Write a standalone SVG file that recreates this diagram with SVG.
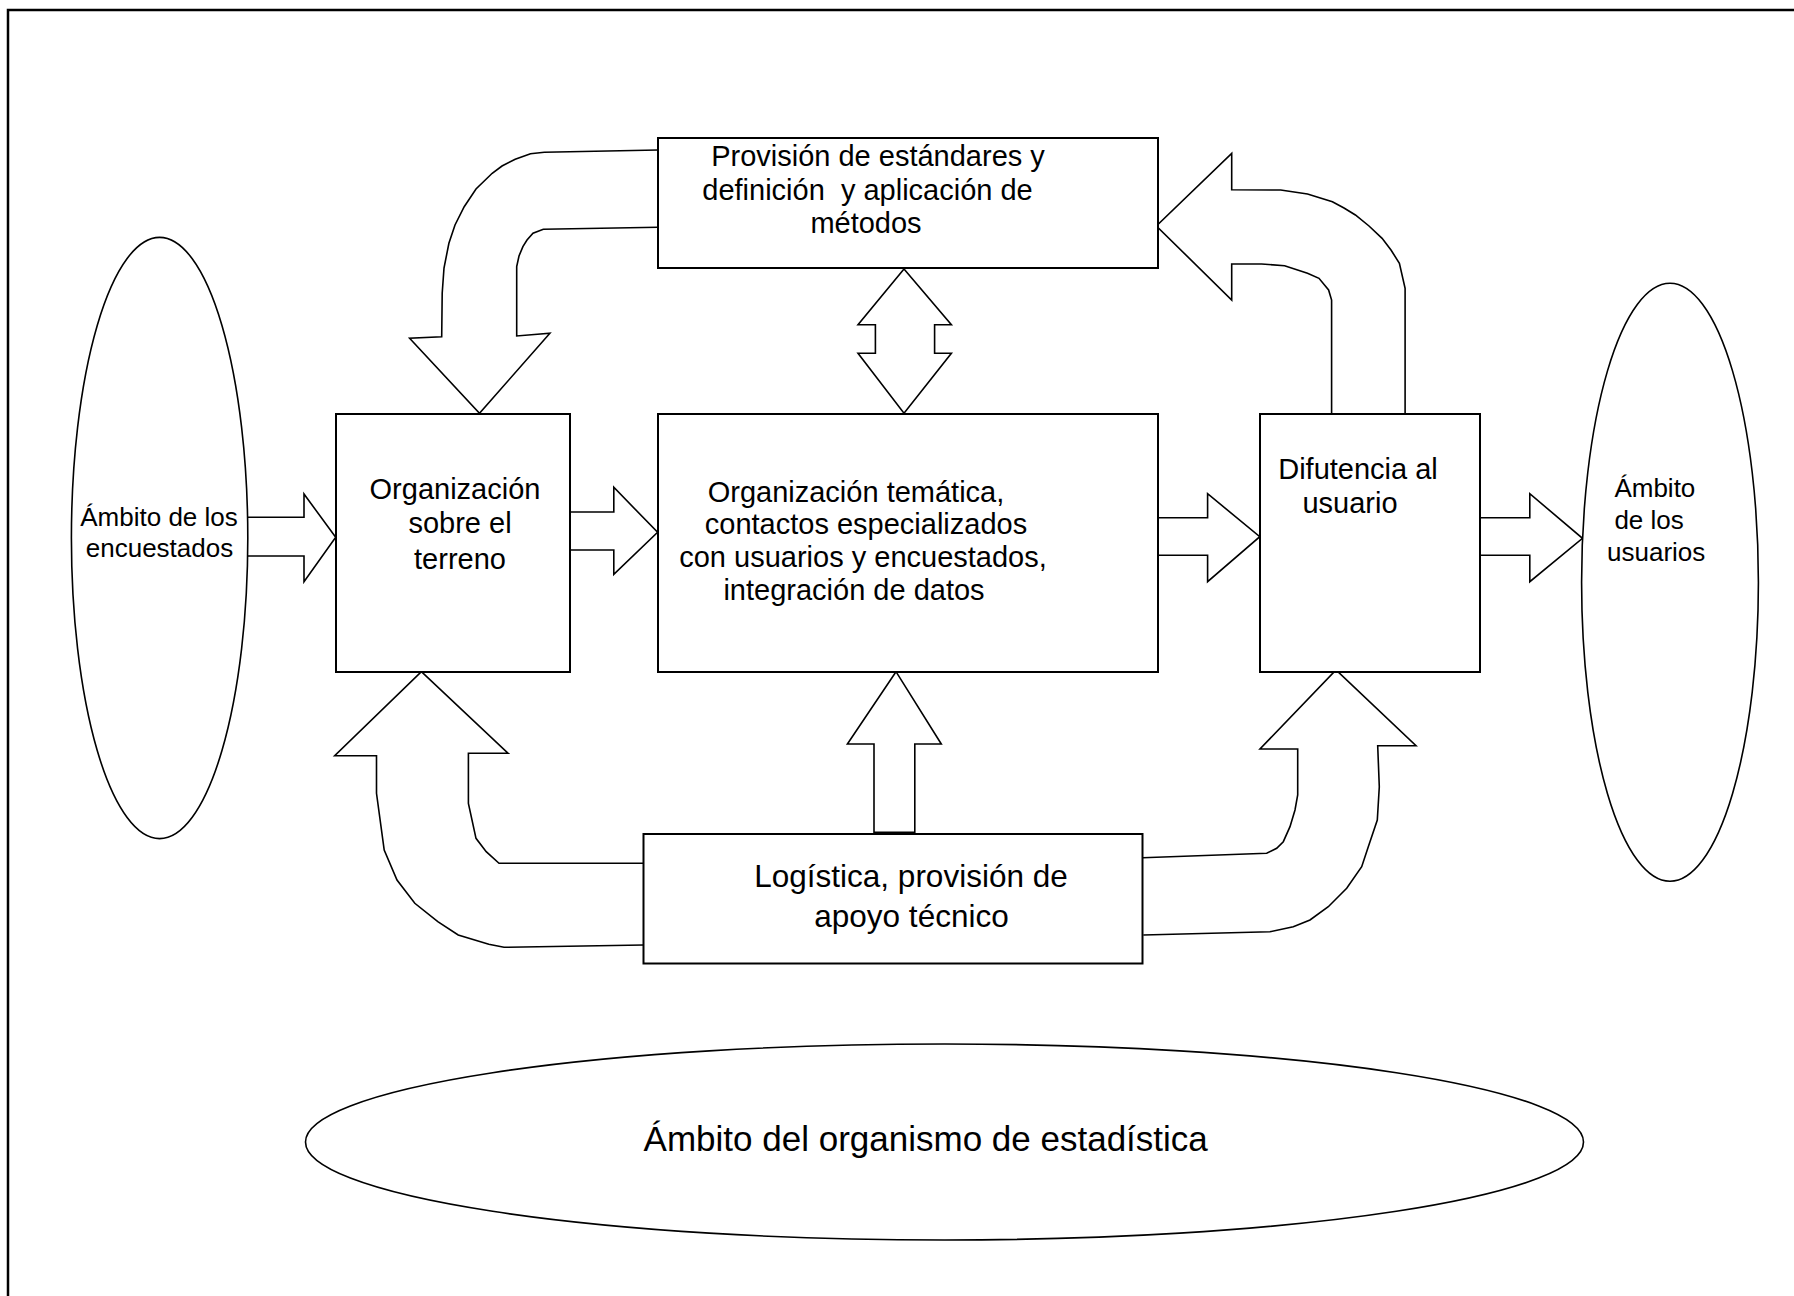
<svg xmlns="http://www.w3.org/2000/svg" width="1794" height="1296" viewBox="0 0 1794 1296">
<style>
.box{fill:#fff;stroke:#000;stroke-width:2}
.ell{fill:#fff;stroke:#000;stroke-width:1.6}
.arr{fill:#fff;stroke:#000;stroke-width:1.6;stroke-linejoin:miter}
.t{font-family:"Liberation Sans",Arial,sans-serif;fill:#000;text-anchor:middle}
.b{font-size:29px}
.l{font-size:31.5px}
.e{font-size:26px}
.big{font-size:35px}
</style>
<rect width="1794" height="1296" fill="#fff"/>
<path d="M8,1296 L8,10 L1794,10" fill="none" stroke="#000" stroke-width="2.5"/>

<g id="connectors">
  <path class="arr" d="M658,150 L544.3,152.3 L530.5,153.7 L515.2,159.3 L502,166 L492.2,173.3 L476,189 L464.2,206.7 L455,225 L448.9,243.3 L444,268 L442.2,293.3 L441.7,336.7 L409.6,338.3 L479.5,413.3 L549.9,333.3 L516.7,336 L516.7,266.7 L519,256 L522.9,246.7 L527,240 L533,233.3 L543.3,229.3 L658,227.3"/>
  <path class="arr" d="M1405.1,413.3 L1405.1,288.3 L1399.4,263.3 L1391,250 L1382.1,238.3 L1369,226 L1355.4,215 L1344,208 L1332.4,201.7 L1307.5,194 L1280.7,190 L1231.7,189.7 L1231.7,153.3 L1156.4,226 L1231.7,300 L1231.7,264 L1261.6,264 L1284.6,265.7 L1307.5,273.3 L1319,278.3 L1328.6,290 L1331.6,300 L1331.6,413.3"/>
  <path class="arr" d="M643.4,945 L504,947.3 L488.8,944.3 L458.2,935 L437.8,921.7 L414.8,903.3 L397,880 L384.2,850 L376.5,793.3 L376.5,755.7 L334.7,755.7 L421.4,671.7 L508.2,753.3 L468.4,753.3 L468.4,803.3 L476,838.3 L486.2,851.7 L499,863.3 L643.4,863.3"/>
  <path class="arr" d="M1142.7,857.7 L1266.7,853.3 L1276.7,848.3 L1283.3,841.7 L1290,826.7 L1295,810 L1297.7,795 L1297.7,749 L1260,749 L1336,670 L1416,745.7 L1377.7,745.7 L1379.3,786.7 L1377.3,820 L1368.3,846.7 L1361.7,866.7 L1346.7,888.3 L1328.3,906.7 L1310,920 L1293.3,926.7 L1270,931.7 L1143.3,935"/>
  <path class="arr" d="M247.8,517.3 L304,517.3 L304,494 L335.7,537.3 L304,581.7 L304,556 L247.8,556"/>
  <path class="arr" d="M570,512 L613.8,512 L613.8,487.3 L657.6,532.3 L613.8,574.3 L613.8,550 L570,550"/>
  <path class="arr" d="M1156,555.3 L1156,517.7 L1207.6,517.7 L1207.6,493.7 L1259.8,536.7 L1207.6,581.7 L1207.6,555.3 Z" stroke-width="2"/>
  <path class="arr" d="M1480,517.7 L1529.8,517.7 L1529.8,493.7 L1582.5,538.3 L1529.8,581.7 L1529.8,555.3 L1480,555.3"/>
  <path class="arr" d="M904,269 L951.4,324.7 L934.6,324.7 L934.6,353.3 L951.4,353.3 L904,413.3 L858,353.3 L875.4,353.3 L875.4,324.7 L858,324.7 Z"/>
  <path class="arr" d="M874,832.3 L874,744 L847.4,744 L896,671.7 L941.3,744 L914.8,744 L914.8,832.3 Z"/>
</g>

<g id="n-provision">
  <rect class="box" x="658" y="138" width="500" height="130"/>
  <text class="t b" x="878" y="166">Provisión de estándares y</text>
  <text class="t b" x="867.5" y="199.5" xml:space="preserve">definición  y aplicación de</text>
  <text class="t b" x="866" y="233">métodos</text>
</g>

<g id="n-terreno">
  <rect class="box" x="336" y="414" width="234" height="258"/>
  <text class="t b" x="455" y="499">Organización</text>
  <text class="t b" x="460" y="533">sobre el</text>
  <text class="t b" x="460" y="569">terreno</text>
</g>

<g id="n-tematica">
  <rect class="box" x="658" y="414" width="500" height="258"/>
  <text class="t b" x="856" y="501.7">Organización temática,</text>
  <text class="t b" x="866" y="534.4">contactos especializados</text>
  <text class="t b" x="863" y="567">con usuarios y encuestados,</text>
  <text class="t b" x="854" y="599.7">integración de datos</text>
</g>

<g id="n-difusion">
  <rect class="box" x="1260" y="414" width="220" height="258"/>
  <text class="t b" x="1358" y="479.3">Difutencia al</text>
  <text class="t b" x="1350" y="512.7">usuario</text>
</g>

<g id="n-logistica">
  <rect class="box" x="643.5" y="834" width="499" height="129.5"/>
  <text class="t l" x="911" y="887">Logística, provisión de</text>
  <text class="t l" x="911.5" y="926.7">apoyo técnico</text>
</g>

<g id="n-encuestados">
  <ellipse class="ell" cx="159.6" cy="538" rx="88.2" ry="300.6"/>
  <text class="t e" x="159" y="525.7">Ámbito de los</text>
  <text class="t e" x="159.5" y="557">encuestados</text>
</g>

<g id="n-usuarios">
  <ellipse class="ell" cx="1670" cy="582.3" rx="88.4" ry="299"/>
  <text class="t e" x="1614.4" y="497.3" style="text-anchor:start">Ámbito</text>
  <text class="t e" x="1614.4" y="528.7" style="text-anchor:start">de los</text>
  <text class="t e" x="1607" y="561" style="text-anchor:start">usuarios</text>
</g>

<g id="n-organismo">
  <ellipse class="ell" cx="944.5" cy="1142" rx="639" ry="98"/>
  <text class="t big" x="925.7" y="1150.7">Ámbito del organismo de estadística</text>
</g>
</svg>
